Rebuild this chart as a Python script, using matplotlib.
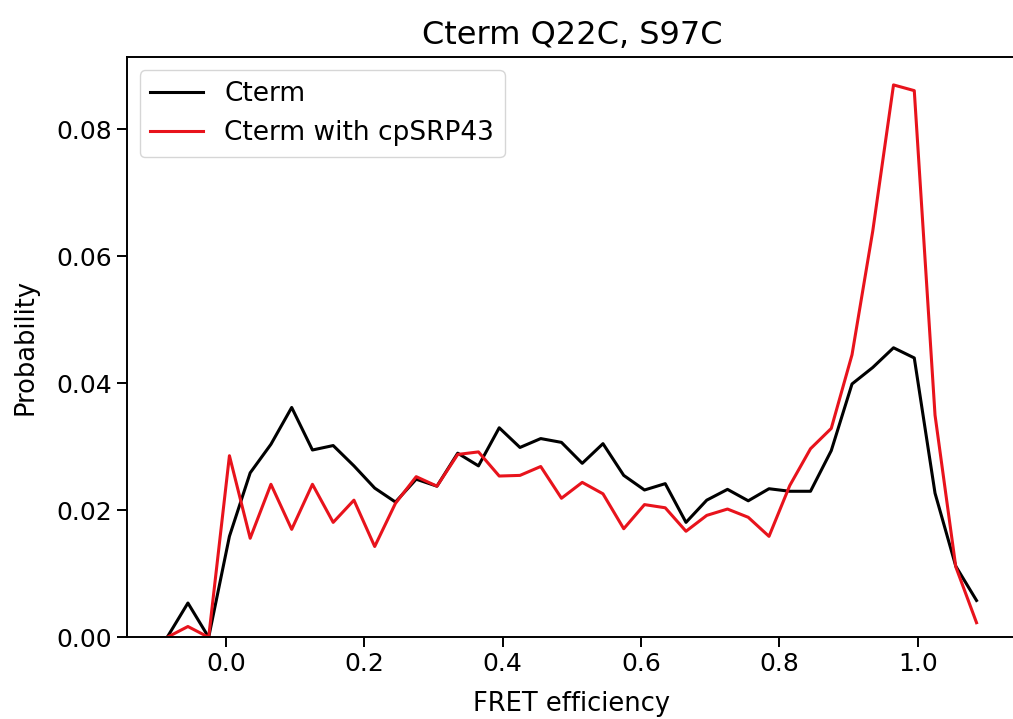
import numpy as np
import matplotlib
matplotlib.use("Agg")
import matplotlib.pyplot as plt

# bin centres of the FRET histogram (40 bins from -0.1 to 1.1)
fret = np.arange(40) * 0.03 - 0.085

cterm = [0.0, 0.0054, 0.0, 0.0159, 0.0259, 0.0304, 0.0362, 0.0295, 0.0302, 0.0270,
         0.0235, 0.0213, 0.0249, 0.0238, 0.0290, 0.0270, 0.0330, 0.0299, 0.0313, 0.0307,
         0.0274, 0.0305, 0.0255, 0.0232, 0.0242, 0.0181, 0.0216, 0.0233, 0.0215, 0.0234,
         0.0230, 0.0230, 0.0294, 0.0399, 0.0425, 0.0456, 0.0440, 0.0227, 0.0112, 0.0058]

cterm_43 = [0.0, 0.0017, 0.0, 0.0286, 0.0156, 0.0241, 0.0170, 0.0241, 0.0181, 0.0216,
            0.0143, 0.0211, 0.0253, 0.0238, 0.0288, 0.0292, 0.0254, 0.0255, 0.0269, 0.0219,
            0.0244, 0.0226, 0.0171, 0.0209, 0.0204, 0.0167, 0.0192, 0.0202, 0.0189, 0.0159,
            0.0239, 0.0297, 0.0329, 0.0445, 0.0640, 0.0870, 0.0861, 0.0350, 0.0111, 0.0023]

fig = plt.figure(figsize=(10.13, 7.19), dpi=100)
ax = fig.add_axes([126.7 / 1013, 1 - 637.3 / 719, (1017 - 126.7) / 1013, (637.3 - 57.3) / 719])

ax.plot(fret, cterm, color='k', lw=2.2, label='Cterm')
ax.plot(fret, cterm_43, color='#e8131c', lw=2.2, label='Cterm with cpSRP43')
ax.set_ylim(bottom=0)

ax.set_title('Cterm Q22C, S97C', fontsize=23, pad=9.5)
ax.set_xlabel('FRET efficiency', fontsize=18.5, labelpad=11)
ax.set_ylabel('Probability', fontsize=18.5, labelpad=13)
ax.tick_params(labelsize=18, length=7, width=1.4)
for s in ax.spines.values():
    s.set_linewidth(1.4)
ax.spines['right'].set_visible(False)  # falls off the right edge in the original
ax.legend(loc='upper left', fontsize=19)

fig.savefig('out.png', dpi=100)
